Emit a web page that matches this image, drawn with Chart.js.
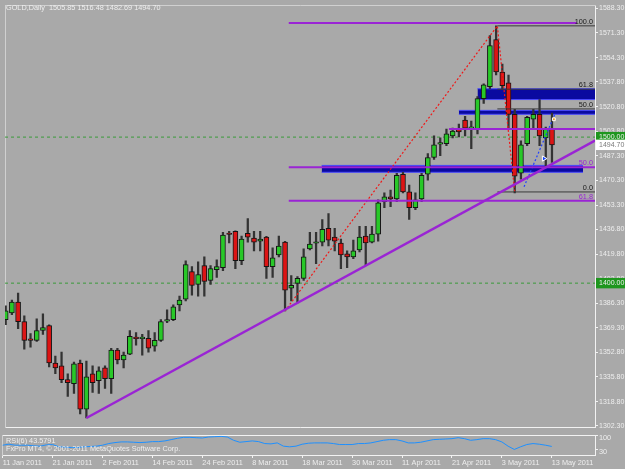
<!DOCTYPE html>
<html lang="en">
<head>
  <meta charset="UTF-8" />
  <title>GOLD,Daily</title>
  <script src="https://cdn.jsdelivr.net/npm/chart.js"></script>
  <style>
    body {
      margin: 0;
      width: 625px;
      height: 469px;
      overflow: hidden;
      position: relative;
      background: #a9a9a9;
      font-family: "Liberation Sans", Arial, sans-serif;
    }
    #main { position: absolute; left: 0; top: 0; }
    #rsi { position: absolute; left: 0; top: 430px; }
    .txt {
      position: absolute;
      left: 6px;
      color: #eeeeee;
      font-size: 7.3px;
      line-height: 8px;
      white-space: pre;
    }
  </style>
</head>
<body>
  <canvas id="main" width="625" height="433"></canvas>
  <canvas id="rsi" width="625" height="39"></canvas>
  <div class="txt" style="top:4px;">GOLD,Daily  1505.85 1516.48 1482.69 1494.70</div>
  <div class="txt" style="top:437px;">RSI(6) 43.5791</div>
  <div class="txt" style="top:445px;">FxPro MT4, © 2001-2011 MetaQuotes Software Corp.</div>

  <script>
    // one bar per trading day, 11 Jan 2011 .. 13 May 2011
    const tickDates = ['11 Jan 2011', '21 Jan 2011', '2 Feb 2011', '14 Feb 2011', '24 Feb 2011', '8 Mar 2011',
                       '18 Mar 2011', '30 Mar 2011', '11 Apr 2011', '21 Apr 2011', '3 May 2011', '13 May 2011'];
    const barsPerDateTick = 8;

    const openP = [
      1374.97, 1379.68, 1387.09, 1373.63, 1361.50, 1360.83, 1367.57, 1370.93, 1345.35, 1343.33,
      1333.91, 1331.22, 1345.35, 1313.73, 1337.95, 1333.24, 1341.99, 1334.58, 1354.10, 1347.37,
      1351.41, 1362.30, 1362.00, 1362.18, 1356.79, 1360.83, 1374.00, 1374.97, 1385.07, 1389.10,
      1407.94, 1399.20, 1411.98, 1401.89, 1409.29, 1410.64, 1433.50, 1435.54, 1415.35, 1434.19,
      1430.83, 1428.81, 1431.50, 1411.31, 1419.38, 1428.13, 1396.50, 1399.87, 1403.23, 1423.43,
      1427.30, 1428.13, 1437.56, 1431.50, 1427.46, 1420.06, 1418.04, 1422.75, 1432.17, 1428.13,
      1433.52, 1455.72, 1459.09, 1457.74, 1474.57, 1462.45, 1451.69, 1457.74, 1474.57, 1486.01,
      1495.20, 1495.43, 1500.81, 1505.52, 1511.58, 1506.00, 1505.52, 1526.38, 1534.46, 1566.76,
      1544.55, 1537.15, 1515.61, 1475.24, 1495.43, 1512.25, 1515.61, 1499.47, 1505.85
    ];
    const highP = [
      1384.40, 1388.43, 1393.15, 1377.67, 1365.55, 1375.65, 1379.01, 1371.50, 1350.06, 1352.76,
      1337.95, 1346.02, 1347.37, 1346.70, 1343.33, 1342.66, 1343.33, 1355.45, 1355.45, 1352.76,
      1367.57, 1366.22, 1364.87, 1367.57, 1366.22, 1374.97, 1381.70, 1385.07, 1391.13, 1415.35,
      1411.31, 1414.67, 1418.04, 1411.98, 1416.02, 1434.86, 1435.54, 1435.90, 1432.17, 1444.28,
      1435.54, 1435.54, 1432.00, 1424.10, 1432.17, 1428.60, 1405.25, 1404.58, 1423.43, 1434.86,
      1434.86, 1443.61, 1447.65, 1437.56, 1430.15, 1422.08, 1429.48, 1438.90, 1438.90, 1438.90,
      1457.07, 1461.78, 1463.80, 1475.24, 1475.91, 1467.16, 1461.78, 1475.24, 1488.70, 1500.81,
      1499.47, 1505.52, 1506.20, 1508.89, 1514.27, 1510.91, 1527.73, 1536.48, 1569.45, 1576.18,
      1549.93, 1542.53, 1518.98, 1497.44, 1514.27, 1518.98, 1525.71, 1506.87, 1516.48
    ];
    const lowP = [
      1371.61, 1378.34, 1368.91, 1354.77, 1356.12, 1360.16, 1364.87, 1342.66, 1337.95, 1331.89,
      1322.48, 1324.49, 1310.37, 1307.67, 1325.16, 1324.49, 1327.85, 1324.49, 1344.68, 1341.99,
      1351.00, 1357.47, 1350.74, 1352.76, 1353.43, 1360.16, 1372.96, 1374.30, 1381.03, 1387.76,
      1391.80, 1391.12, 1391.12, 1399.20, 1403.91, 1408.62, 1427.46, 1409.96, 1412.66, 1428.13,
      1422.08, 1422.08, 1403.23, 1403.91, 1418.04, 1381.03, 1387.76, 1386.41, 1401.89, 1422.75,
      1413.33, 1425.44, 1425.44, 1422.08, 1409.96, 1410.64, 1416.69, 1421.40, 1411.98, 1427.46,
      1428.81, 1451.69, 1452.36, 1455.72, 1461.78, 1443.61, 1450.34, 1455.72, 1470.53, 1484.66,
      1487.35, 1494.08, 1499.47, 1500.14, 1500.81, 1492.06, 1502.16, 1523.02, 1533.11, 1542.53,
      1532.44, 1505.52, 1461.78, 1471.20, 1494.08, 1505.52, 1494.08, 1479.28, 1482.69
    ];
    const closeP = [
      1381.03, 1387.09, 1373.63, 1360.83, 1360.83, 1367.57, 1369.59, 1345.35, 1341.99, 1333.91,
      1331.89, 1344.68, 1313.73, 1335.93, 1331.89, 1339.97, 1334.58, 1354.10, 1347.37, 1350.74,
      1363.53, 1362.00, 1362.30, 1355.45, 1360.83, 1373.63, 1374.30, 1383.73, 1388.43, 1412.66,
      1398.52, 1405.93, 1401.21, 1409.96, 1411.31, 1432.84, 1433.30, 1415.35, 1430.15, 1431.50,
      1428.13, 1430.15, 1411.31, 1417.37, 1425.44, 1395.16, 1398.52, 1403.23, 1418.04, 1426.79,
      1427.60, 1436.88, 1429.48, 1428.81, 1419.38, 1418.04, 1422.08, 1431.50, 1427.46, 1433.52,
      1455.05, 1459.09, 1457.74, 1473.89, 1462.45, 1451.69, 1457.07, 1473.89, 1486.01, 1494.76,
      1495.50, 1502.16, 1504.18, 1503.50, 1506.20, 1506.30, 1526.38, 1535.81, 1562.72, 1544.55,
      1535.14, 1515.61, 1473.22, 1494.76, 1513.60, 1515.61, 1500.81, 1505.52, 1494.70
    ];
    const rsi6 = [
      50, 55, 50, 50, 50, 46.7, 45, 51.7, 53.3, 41.7,
      40, 38.3, 38.3, 41.7, 43.3, 45, 50, 58.3, 63.3, 66.7,
      66.7, 65, 63.3, 65, 68.3, 68.3, 71.7, 78.3, 85, 90,
      90, 88.3, 86.7, 91.7, 93.3, 95, 91.7, 75, 65, 68.3,
      71.7, 68.3, 58.3, 56.7, 61.7, 45, 41.7, 45, 55, 60,
      61.7, 61.7, 61.7, 58.3, 53.3, 53.3, 53.3, 58.3, 58.3, 61.7,
      68.3, 75, 78.3, 78.3, 71.7, 61.7, 61.7, 65, 71.7, 78.3,
      80, 81.7, 83.3, 88.3, 83.3, 75, 78.3, 83.3, 83.3, 78.3,
      66.7, 45, 28.3, 41.7, 53.3, 58.3, 55, 50, 43.58
    ];

    const priceTicks = [1588.30, 1571.30, 1554.30, 1537.80, 1520.80, 1503.80, 1487.30, 1470.30, 1453.30,
                        1436.80, 1419.80, 1402.80, 1386.30, 1369.30, 1352.80, 1335.80, 1318.80, 1302.30];
    const alertPrices = [1500.00, 1400.00];
    const lastPrice = 1494.70;
    const rsiTicks = [100, 30];

    // objects drawn on the chart: x in bar numbers, y in price
    const trendX = [13, 95];
    const trendY = [1307.67, 1497.8];
    const purpleLevels = [1578.2, 1505.5, 1479.3, 1456.4];
    const purpleNames = ['', '', '50.0', '61.8'];
    const purpleFrom = [45.6, 71.4, 45.6, 45.6];
    const purpleTo = [92, 95, 95, 95];
    const fibLevels = [1576.18, 1532.80, 1519.30, 1462.45];
    const fibNames = ['100.0', '61.8', '50.0', '0.0'];
    const fibFrom = 79.2;
    const zoneTop = [1533.11, 1518.31, 1480.63];
    const zoneBottom = [1525.71, 1515.61, 1475.91];
    const zoneFrom = [76, 73, 50.9];
    const zoneTo = [95, 95, 93];
    const redDotX = [45, 79.2, 82];
    const redDotY = [1381.03, 1576.18, 1462.45];
    const blueDotX = [83.5, 88.5];
    const blueDotY = [1466, 1516];

    const xMin = -0.11, xMax = 94.93;
    const purple = '#9a24d4';
    const frame = '#f2f2f2';
    const txt = '#eeeeee';

    Chart.defaults.font.family = '"Liberation Sans", Arial, sans-serif';
    Chart.defaults.font.size = 7.3;
    Chart.defaults.animation = false;

    const seg = (x0, y0, x1, y1) => [{ x: x0, y: y0 }, { x: x1, y: y1 }];
    const lineSet = (data, color, width, extra) => Object.assign({
      type: 'line', data, borderColor: color, borderWidth: width,
      pointRadius: 0, fill: false, tension: 0, order: 1
    }, extra || {});

    const datasets = [];

    // markers near the last bars
    datasets.push({
      type: 'scatter', data: [{ x: 86.7, y: 1485.3 }], pointStyle: 'triangle', rotation: 90,
      radius: 3, backgroundColor: '#1040ff', borderColor: '#ffffff', borderWidth: 1, order: 0
    });
    datasets.push({
      type: 'scatter', data: [{ x: 88.3, y: 1512.2 }], pointStyle: 'rect',
      radius: 2, backgroundColor: '#f0a020', borderColor: '#ffffff', borderWidth: 1, order: 0
    });

    datasets.push(lineSet(seg(trendX[0], trendY[0], trendX[1], trendY[1]), purple, 2.5));
    purpleLevels.forEach((v, i) => {
      datasets.push(lineSet(seg(purpleFrom[i], v, purpleTo[i], v), purple, 2));
    });
    fibLevels.forEach(v => {
      datasets.push(lineSet(seg(fibFrom, v, xMax + 1, v), '#3a3a3a', 1));
    });
    datasets.push(lineSet(redDotX.map((x, i) => ({ x, y: redDotY[i] })), '#f01818', 1.2, { borderDash: [2, 2] }));
    datasets.push(lineSet(seg(blueDotX[0], blueDotY[0], blueDotX[1], blueDotY[1]), '#2040ff', 1.2, { borderDash: [2, 2] }));

    // candles: body above wick
    datasets.push({
      type: 'bar', grouped: false, order: 4,
      data: openP.map((o, i) => ({ x: i, y: [o, closeP[i]] })),
      barThickness: 5, minBarLength: 1.5,
      backgroundColor: ctx => closeP[ctx.dataIndex] >= openP[ctx.dataIndex] ? '#28c828' : '#dc1414',
      borderColor: '#151515', borderWidth: 1, borderSkipped: false
    });
    datasets.push({
      type: 'bar', grouped: false, order: 5,
      data: openP.map((o, i) => ({ x: i, y: [lowP[i], highP[i]] })),
      barThickness: 1.6, backgroundColor: '#333333', borderWidth: 0
    });

    alertPrices.forEach(v => {
      datasets.push(lineSet(seg(xMin, v, xMax + 1, v), '#3a9a3a', 1, { borderDash: [3, 3], order: 6 }));
    });

    zoneTop.forEach((t, i) => {
      datasets.push(lineSet(seg(zoneFrom[i], t, zoneTo[i], t), '#4a4aff', 1, { order: 7 }));
      datasets.push(lineSet(seg(zoneFrom[i], zoneBottom[i], zoneTo[i], zoneBottom[i]), '#4a4aff', 1,
        { order: 7, fill: '-1', backgroundColor: '#0a0aa0' }));
    });

    // every dataset sits on the price axis
    datasets.forEach(d => { d.xAxisID = 'x'; d.yAxisID = 'y'; });

    const levelText = {
      id: 'levelText',
      afterDatasetsDraw(chart) {
        const { ctx, chartArea, scales: { y } } = chart;
        ctx.save();
        ctx.font = '7.3px "Liberation Sans", Arial, sans-serif';
        ctx.textAlign = 'right';
        ctx.textBaseline = 'alphabetic';
        fibLevels.forEach((v, i) => {
          ctx.fillStyle = '#1a1a1a';
          ctx.fillText(fibNames[i], chartArea.right - 2, y.getPixelForValue(v) - 2);
        });
        purpleLevels.forEach((v, i) => {
          if (!purpleNames[i]) return;
          ctx.fillStyle = purple;
          ctx.fillText(purpleNames[i], chartArea.right - 2, y.getPixelForValue(v) - 2);
        });
        ctx.restore();
      }
    };

    const edgeAxis = (position, extra) => Object.assign({
      type: 'linear', position, min: 0, max: 1, display: true,
      ticks: { display: false }, grid: { display: false, drawTicks: false },
      border: { display: true, color: frame, width: 1 }
    }, extra || {});

    new Chart(document.getElementById('main'), {
      type: 'bar',
      data: { datasets },
      options: {
        responsive: false,
        events: [],
        layout: { padding: { left: 2, top: 2, right: 0, bottom: 1 } },
        plugins: { legend: { display: false }, tooltip: { enabled: false } },
        scales: {
          x: edgeAxis('bottom', { min: xMin, max: xMax, offset: false }),
          y: {
            type: 'linear', position: 'right', min: 1300.95, max: 1590.32, beginAtZero: false,
            afterBuildTicks: axis => {
              axis.ticks = priceTicks.concat(alertPrices, [lastPrice]).map(v => ({ value: v }));
            },
            afterFit: axis => { axis.width = 30; },
            grid: { drawOnChartArea: false, drawTicks: true, tickLength: 3, color: frame },
            border: { display: true, color: frame, width: 1 },
            ticks: {
              autoSkip: false, padding: 1,
              font: { size: 7 },
              callback: v => v.toFixed(2),
              color: ctx => ctx.tick && ctx.tick.value === lastPrice ? '#7a7a7a' : txt,
              showLabelBackdrop: ctx => !!ctx.tick && (ctx.tick.value === lastPrice || alertPrices.includes(ctx.tick.value)),
              backdropColor: ctx => ctx.tick && ctx.tick.value === lastPrice ? '#ffffff' : '#1e961e',
              backdropPadding: { left: 3, right: 3, top: 1, bottom: 1 }
            }
          },
          xTop: edgeAxis('top', { border: { display: true, color: '#d0d0d0', width: 1 } }),
          yLeft: edgeAxis('left', { border: { display: true, color: '#d0d0d0', width: 1 } })
        }
      },
      plugins: [levelText]
    });

    new Chart(document.getElementById('rsi'), {
      type: 'line',
      data: {
        datasets: [{
          xAxisID: 'x', yAxisID: 'y',
          data: rsi6.map((v, i) => ({ x: i, y: v })),
          borderColor: '#1e90ff', borderWidth: 1, pointRadius: 0, tension: 0, fill: false
        }]
      },
      options: {
        responsive: false,
        events: [],
        layout: { padding: { left: 2, top: 5, right: 0, bottom: 0 } },
        plugins: { legend: { display: false }, tooltip: { enabled: false } },
        scales: {
          x: {
            type: 'linear', min: xMin, max: xMax, offset: false,
            afterBuildTicks: axis => {
              axis.ticks = tickDates.map((d, i) => ({ value: i * barsPerDateTick }));
            },
            afterFit: axis => { axis.height = 14; },
            grid: { drawOnChartArea: false, drawTicks: true, tickLength: 3, color: frame },
            border: { display: true, color: frame, width: 1 },
            ticks: {
              autoSkip: false, minRotation: 0, maxRotation: 0, align: 'start', padding: 1, color: txt,
              callback: (v, i) => tickDates[i]
            }
          },
          y: {
            type: 'linear', position: 'right', min: 0, max: 100,
            afterBuildTicks: axis => { axis.ticks = rsiTicks.map(v => ({ value: v })); },
            afterFit: axis => { axis.width = 30; },
            grid: { drawOnChartArea: false, drawTicks: true, tickLength: 3, color: frame },
            border: { display: true, color: frame, width: 1 },
            ticks: { autoSkip: false, padding: 1, color: txt, labelOffset: 3 }
          },
          xTop: edgeAxis('top'),
          yLeft: edgeAxis('left', { border: { display: true, color: '#d0d0d0', width: 1 } })
        }
      }
    });
  </script>
</body>
</html>
